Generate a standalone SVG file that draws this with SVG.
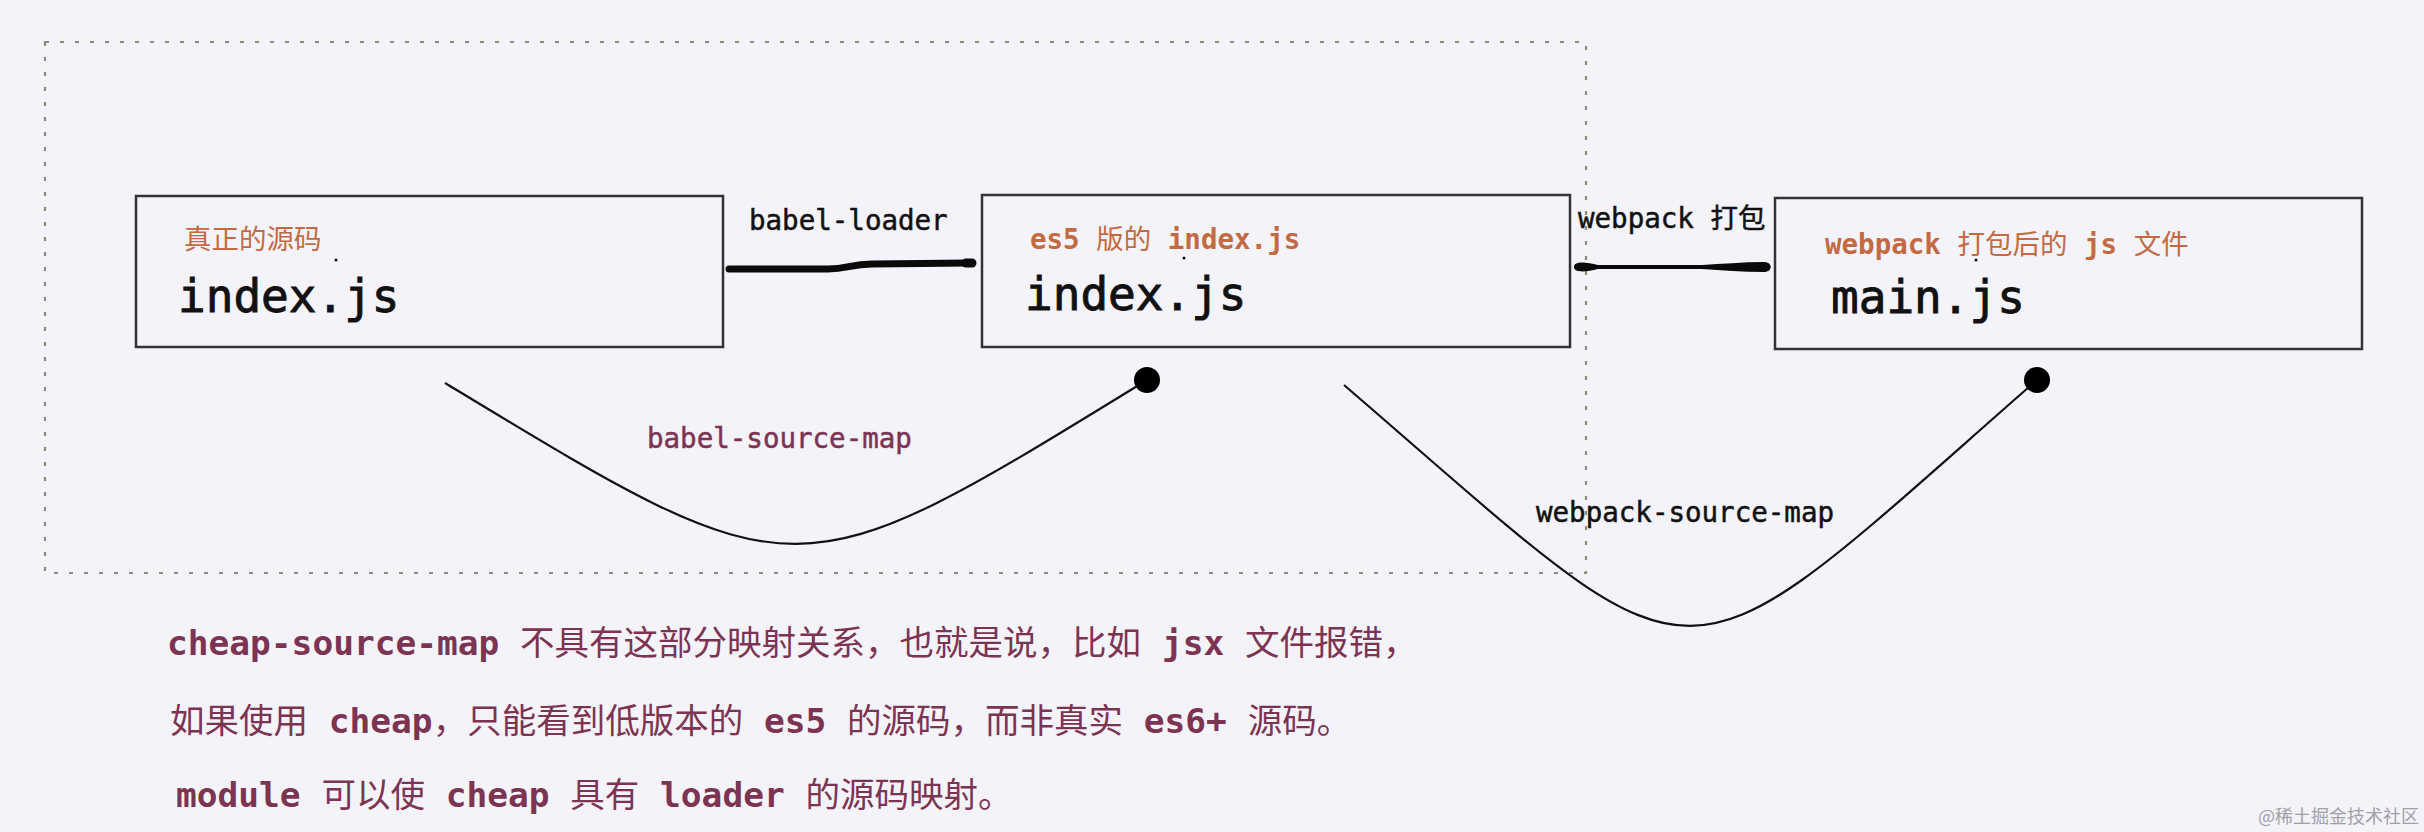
<svg xmlns="http://www.w3.org/2000/svg" width="2424" height="832" viewBox="0 0 2424 832">
<style>
.bg{fill:#f4f3fa}
.frame{fill:none;stroke:#8e8c78;stroke-width:2.2;stroke-dasharray:4 11}
.box{fill:#f4f3fa;stroke:#333;stroke-width:2.5}
.mono{font-family:"DejaVu Sans Mono","Noto Sans CJK SC",monospace}
.big{font-size:46px;fill:#111;stroke:#111;stroke-width:0.9}
.sub{font-size:27.5px;fill:#c36a42}
.lbl{font-size:27.5px;fill:#111;stroke:#111;stroke-width:0.5}
.mar{fill:#7d3352;stroke:#7d3352}
.note{font-size:34.5px;fill:#7d3352}
.b{font-weight:bold}
.curve{fill:none;stroke:#111;stroke-width:2.2}
.brush{fill:none;stroke:#0a0a0a;stroke-linecap:round;stroke-linejoin:round}
.wm{font-family:"Noto Sans CJK SC",sans-serif;font-size:18px;fill:#a0a0a8}
</style>
<rect class="bg" x="0" y="0" width="2424" height="832"/>
<rect class="frame" x="45" y="42" width="1541" height="531"/>

<g id="node-src">
<rect class="box" x="136" y="196" width="587" height="151"/>
<text class="mono sub" x="184" y="249">真正的源码</text>
<text class="mono big" x="178" y="312">index.js</text>
<circle cx="336" cy="260" r="1.5" fill="#111"/>
</g>

<g id="node-es5">
<rect class="box" x="982" y="195" width="588" height="152"/>
<text class="mono sub" x="1030" y="249"><tspan class="b">es5</tspan> 版的 <tspan class="b">index.js</tspan></text>
<text class="mono big" x="1025" y="310">index.js</text>
<circle cx="1184" cy="258" r="1.5" fill="#111"/>
</g>

<g id="node-main">
<rect class="box" x="1775" y="198" width="587" height="151"/>
<text class="mono sub" x="1825" y="254"><tspan class="b">webpack</tspan> 打包后的 <tspan class="b">js</tspan> 文件</text>
<text class="mono big" x="1831" y="313">main.js</text>
<circle cx="1976" cy="260" r="1.5" fill="#111"/>
</g>

<g id="connectors">
<path class="brush" stroke-width="7" d="M729,269 L828,269 C848,269 850,264 872,264 L969,263"/>
<path class="brush" stroke-width="9" d="M972,263 L966,263"/>
<path fill="#0a0a0a" d="M1574,267 C1574,261 1586,262 1598,265 L1702,265 C1722,264 1742,262 1764,262 C1773,262 1773,272 1764,272 C1742,272 1722,270 1702,269 L1598,269 C1586,272 1574,273 1574,267 Z"/>
<text class="mono lbl" x="749" y="230">babel-loader</text>
<text class="mono lbl" x="1578" y="228">webpack 打包</text>
<path class="curve" d="M445,383 C800,598 792,598 1147,380"/>
<circle cx="1147" cy="380" r="13" fill="#000"/>
<text class="mono lbl mar" x="647" y="448">babel-source-map</text>
<path class="curve" d="M1344,385 C1718,707 1663,707 2037,380"/>
<circle cx="2037" cy="380" r="13" fill="#000"/>
<text class="mono lbl" x="1536" y="522">webpack-source-map</text>
</g>

<g id="notes">
<text class="mono note" x="167" y="655"><tspan class="b">cheap-source-map</tspan> 不具有这部分映射关系，也就是说，比如 <tspan class="b">jsx</tspan> 文件报错，</text>
<text class="mono note" x="170" y="733">如果使用 <tspan class="b">cheap</tspan>，只能看到低版本的 <tspan class="b">es5</tspan> 的源码，而非真实 <tspan class="b">es6+</tspan> 源码。</text>
<text class="mono note" x="176" y="807"><tspan class="b">module</tspan> 可以使 <tspan class="b">cheap</tspan> 具有 <tspan class="b">loader</tspan> 的源码映射。</text>
</g>

<text class="wm" x="2258" y="823">@稀土掘金技术社区</text>
</svg>
